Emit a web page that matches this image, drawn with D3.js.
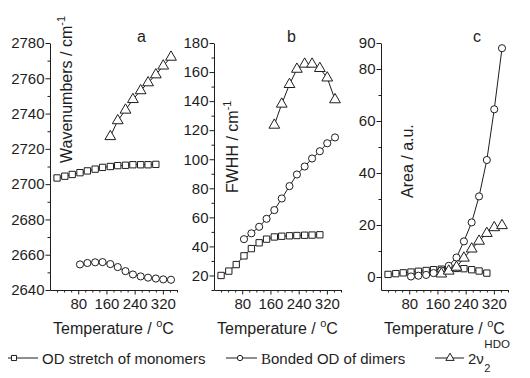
<!DOCTYPE html>
<html><head><meta charset="utf-8">
<script src="https://cdn.jsdelivr.net/npm/d3@7"></script>
<style>
html,body{margin:0;padding:0;background:#fff;}
svg{display:block;font-family:"Liberation Sans",Arial,sans-serif;}
</style></head>
<body><svg id="c" width="530" height="378"></svg>
<script>
// ---- data ----
const tempMonomers = [20,42,63,85,106,128,149,171,192,214,235,257,278,300];
const tempDimers   = [85,106,128,149,171,192,214,235,257,278,300,321,343];
const tempHDO      = [171,192,214,235,257,278,300,321,343];

const wavenumMonomers = [2703.5,2704.5,2705.5,2706.5,2707.5,2708.5,2709.5,2710,2710.5,2710.7,2711,2711,2711,2711.2];
const wavenumDimers   = [2654.5,2655.3,2655.7,2655.8,2654.7,2653,2650.7,2648.8,2647.7,2647,2646.5,2646,2645.8];
const wavenumHDO      = [2727,2736,2742,2748,2753,2757.5,2762,2767,2772];

const fwhhMonomers = [20,23,27.5,33.5,38.5,42.5,45,46.5,47,47.3,47.5,47.7,47.8,48];
const fwhhDimers   = [45,49,53.5,59,65,73,81.5,89.5,95,100.5,105.5,111,115];
const fwhhHDO      = [123.5,138,151.5,162,165.5,165.5,162.5,156,141];

const areaMonomers = [1.0,1.3,1.6,1.9,2.2,2.5,2.8,3.0,3.2,3.3,3.2,2.8,2.3,1.5];
const areaDimers   = [0.2,0.5,0.8,1.5,2.5,4.3,7.5,13.7,21,31,45,64.5,88];
const areaHDO      = [1.2,2.3,3.8,7.3,10.8,13.8,16.8,19,19.8];

const xTicks = [80,160,240,320];
const yTicksA = [2640,2660,2680,2700,2720,2740,2760,2780];
const yTicksB = [20,40,60,80,100,120,140,160,180];
const yTicksC = [0,20,40,60,80,90];

const legendLabels = ["OD stretch of monomers","Bonded OD of dimers","2ν"];

// ---- layout ----
const svg = d3.select("#c");
const INK = "#1e1e1e";
const plotTop = 43, plotBottom = 290, pw = 127;

const panels = [
  {x0:50, dom:[2640,2780], ticks:yTicksA, minor:d3.range(2640,2781,10), letter:"a", lx:141.5,
   title:"Wavenumbers / cm", tx:71.5, ty:163, series:[wavenumMonomers,wavenumDimers,wavenumHDO]},
  {x0:214, dom:[10,180], ticks:yTicksB, minor:d3.range(10,181,10), letter:"b", lx:291.5,
   title:"FWHH / cm", tx:238, ty:193, series:[fwhhMonomers,fwhhDimers,fwhhHDO]},
  {x0:381, dom:[-5,90], ticks:yTicksC, minor:d3.range(0,91,10), letter:"c", lx:477,
   title:"Area / a.u.", tx:412.5, ty:198, series:[areaMonomers,areaDimers,areaHDO], noSup:true}
];
const temps = [tempMonomers,tempDimers,tempHDO];
const shapes = [d3.symbolSquare, d3.symbolCircle, d3.symbolTriangle];
const sizes = [40, 40, 50];
const fmt = d3.format("d");

panels.forEach(p => {
  const x = d3.scaleLinear().domain([0,360]).range([p.x0, p.x0+pw]);
  const y = d3.scaleLinear().domain(p.dom).range([plotBottom, plotTop]);
  const g = svg.append("g");

  const xm = g.append("g").attr("transform",`translate(0,${plotBottom})`)
    .call(d3.axisBottom(x).tickValues(d3.range(20,361,20).filter(v=>!xTicks.includes(v))).tickSize(2.5).tickSizeOuter(0).tickFormat(""));
  xm.select(".domain").remove();
  const ym = g.append("g").attr("transform",`translate(${p.x0},0)`)
    .call(d3.axisLeft(y).tickValues(p.minor.filter(v=>!p.ticks.includes(v))).tickSize(2.5).tickSizeOuter(0).tickFormat(""));
  ym.select(".domain").remove();

  const xa = g.append("g").attr("transform",`translate(0,${plotBottom})`)
    .call(d3.axisBottom(x).tickValues(xTicks).tickSize(4.5).tickSizeOuter(0).tickPadding(4).tickFormat(fmt));
  const ya = g.append("g").attr("transform",`translate(${p.x0},0)`)
    .call(d3.axisLeft(y).tickValues(p.ticks).tickSize(4.5).tickSizeOuter(0).tickPadding(1).tickFormat(fmt));
  [xa,ya,xm,ym].forEach(a=>{
    a.selectAll("path,line").attr("stroke",INK).attr("stroke-width",1);
    a.selectAll("text").attr("fill",INK).attr("font-family","Liberation Sans, Arial, sans-serif").attr("font-size",15);
  });

  p.series.forEach((vals,i) => {
    const pts = vals.map((v,j)=>[x(temps[i][j]), y(v)]);
    g.append("path").attr("d", d3.line()(pts)).attr("fill","none").attr("stroke",INK).attr("stroke-width",1);
    g.selectAll(null).data(pts).join("path")
      .attr("transform",d=>`translate(${d[0]},${d[1]})`)
      .attr("d", d3.symbol().type(shapes[i]).size(sizes[i]))
      .attr("fill","#fff").attr("stroke",INK).attr("stroke-width",1);
  });

  g.append("text").attr("x",p.lx).attr("y",41.5).attr("text-anchor","middle")
    .attr("font-size",16).attr("fill",INK).text(p.letter);

  const t = g.append("text").attr("transform",`translate(${p.tx},${p.ty}) rotate(-90)`)
    .attr("font-size",16).attr("fill",INK);
  t.append("tspan").text(p.title);
  if(!p.noSup) t.append("tspan").attr("font-size",11).attr("dy",-7).text("-1");

  const xt = g.append("text").attr("x",p.x0+pw/2).attr("y",333.5).attr("text-anchor","middle")
    .attr("font-size",16).attr("fill",INK);
  xt.append("tspan").text("Temperature / ");
  xt.append("tspan").attr("font-size",11).attr("dy",-7).text("o");
  xt.append("tspan").attr("dy",7).text("C");
});

// ---- legend ----
const ly = 358, lb = 364;
const leg = [
  {x1:8,x2:38,mx:14,tx:42},
  {x1:226,x2:257,mx:240,tx:261},
  {x1:435,x2:464,mx:450,tx:468}
];
const lsizes = [26, 22, 30];
leg.forEach((l,i)=>{
  svg.append("line").attr("x1",l.x1).attr("x2",l.x2).attr("y1",ly).attr("y2",ly).attr("stroke",INK).attr("stroke-width",1);
  svg.append("path").attr("transform",`translate(${l.mx},${ly})`)
    .attr("d", d3.symbol().type(shapes[i]).size(lsizes[i])).attr("fill","#fff").attr("stroke",INK).attr("stroke-width",1);
});
svg.append("text").attr("x",leg[0].tx).attr("y",lb).attr("font-size",15).attr("fill",INK).text(legendLabels[0]);
const t2 = svg.append("text").attr("x",leg[1].tx).attr("y",lb).attr("font-size",15).attr("fill",INK);
t2.append("tspan").attr("font-family","Liberation Serif, Times New Roman, serif").text(legendLabels[1].slice(0,1));
t2.append("tspan").text(legendLabels[1].slice(1));
const t3 = svg.append("text").attr("x",leg[2].tx).attr("y",lb).attr("font-size",15).attr("fill",INK).text(legendLabels[2]);
const w3 = t3.node().getComputedTextLength();
svg.append("text").attr("x",leg[2].tx+w3+0.5).attr("y",lb+8).attr("font-size",11).attr("fill",INK).text("2");
svg.append("text").attr("x",leg[2].tx+w3+0.5).attr("y",lb-16).attr("font-size",11.5).attr("fill",INK).text("HDO");
</script></body></html>
